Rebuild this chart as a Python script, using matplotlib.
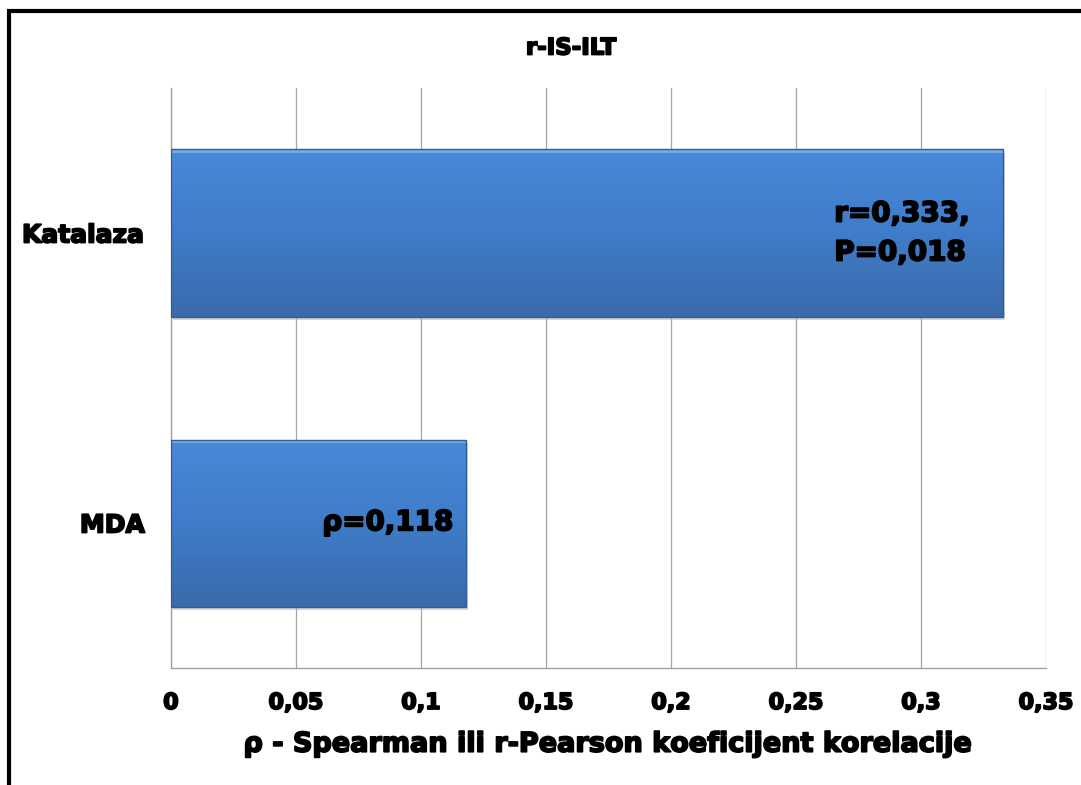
import numpy as np
import matplotlib
matplotlib.use("Agg")
import matplotlib.pyplot as plt
import matplotlib.patheffects as pe
from matplotlib.patches import Rectangle
from matplotlib.colors import LinearSegmentedColormap

plt.rcParams['font.family'] = ['DejaVu Sans']
plt.rcParams['mathtext.fontset'] = 'dejavusans'
plt.rcParams['mathtext.default'] = 'regular'

# Podaci
kategorije = ['MDA', 'Katalaza']
vrijednosti = [0.118, 0.333]
oznake = [r'$\rho$=0,118', 'r=0,333,\nP=0,018']
x_ticks = [0, 0.05, 0.1, 0.15, 0.2, 0.25, 0.3, 0.35]
x_tick_labels = ['0', '0,05', '0,1', '0,15', '0,2', '0,25', '0,3', '0,35']

naslov = 'r-IS-ILT'
x_naslov = r'$\rho$ - Spearman ili r-Pearson koeficijent korelacije'

# deblji crni tekst
debelo = [pe.withStroke(linewidth=1.3, foreground='black')]

fig = plt.figure(figsize=(10.81, 7.85), dpi=100)
ax = fig.add_axes([0.1582, 0.149, 0.8094, 0.7389])

# Okvir oko grafikona
fig.patches.append(Rectangle((9 / 1081, -0.05), 1.2, 1 - 11 / 785 + 0.05,
                             transform=fig.transFigure, fill=False,
                             edgecolor='black', linewidth=3, zorder=10))

# Gradijent za stupce
plava = LinearSegmentedColormap.from_list('plava', ['#3a6aab', '#3f7cc9', '#4989d8'])
gradijent = np.linspace(0, 1, 256).reshape(-1, 1)

visina = 0.576
y = np.arange(len(kategorije))
for yi, v in zip(y, vrijednosti):
    # sjena
    ax.add_patch(Rectangle((0.0008, yi - visina / 2 - 0.012), v, visina,
                           facecolor='#b0b0b0', edgecolor='none', alpha=0.5, zorder=2))
    stupac = Rectangle((0, yi - visina / 2), v, visina,
                       facecolor='none', edgecolor='#2f5d9a', linewidth=1.0, zorder=4)
    ax.add_patch(stupac)
    img = ax.imshow(gradijent, extent=[0, v, yi - visina / 2, yi + visina / 2],
                    origin='lower', cmap=plava, aspect='auto', zorder=3)
    img.set_clip_path(stupac)
    # svijetli rub na vrhu
    ax.add_patch(Rectangle((0, yi + visina / 2 - 0.012), v, 0.012,
                           facecolor='#7fb6ee', edgecolor='none', alpha=0.8, zorder=3.5))

pomaci = [-9, -24]
for yi, v, t, p in zip(y, vrijednosti, oznake, pomaci):
    ax.annotate(t, xy=(v, yi), xytext=(p, 0), textcoords='offset points',
                ha='right', va='center', multialignment='left',
                fontsize=20, fontweight='bold', color='black', zorder=6,
                linespacing=1.5, path_effects=debelo)

ax.set_xlim(0, 0.35)
ax.set_ylim(-0.5, 1.5)
ax.set_xticks(x_ticks)
ax.set_xticklabels(x_tick_labels, fontsize=16, fontweight='bold')
ax.set_yticks(y)
ax.set_yticklabels(kategorije, fontsize=18, fontweight='bold')
for lbl in ax.get_xticklabels() + ax.get_yticklabels():
    lbl.set_path_effects(debelo)
ax.tick_params(axis='x', length=0, pad=18)
ax.tick_params(axis='y', length=0, pad=19)

ax.grid(axis='x', color='#a6a6a6', linewidth=0.9, zorder=0)
ax.set_axisbelow(True)
for s in ['top', 'right']:
    ax.spines[s].set_visible(False)
for s in ['left', 'bottom']:
    ax.spines[s].set_color('#a0a0a0')
    ax.spines[s].set_linewidth(1.0)

fig.text(571 / 1081, 1 - 48 / 785, naslov, ha='center', va='center',
         fontsize=16.5, fontweight='bold', path_effects=debelo)
ax.set_xlabel(x_naslov, fontsize=19.5, fontweight='bold', labelpad=12,
              path_effects=debelo)

fig.savefig('out.png', dpi=100, facecolor='white')
